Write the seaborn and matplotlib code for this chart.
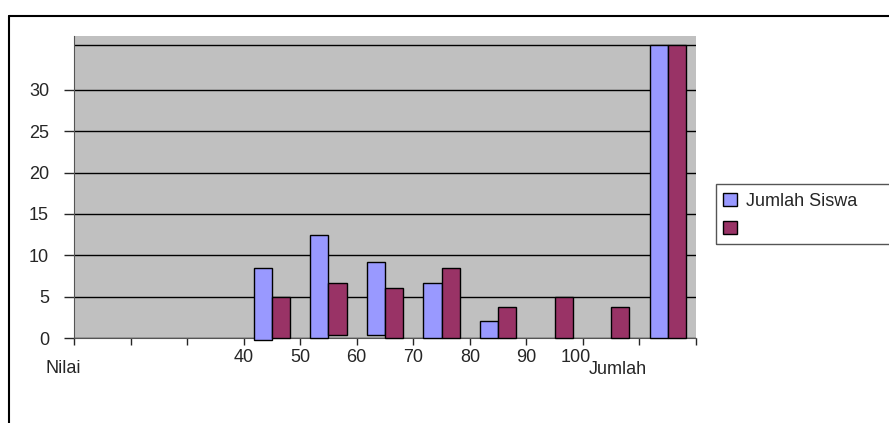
import numpy as np
import pandas as pd
import matplotlib.pyplot as plt
import seaborn as sns
from matplotlib.lines import Line2D
from matplotlib.patches import Patch, Rectangle

# category slots on the x axis and their labels
categories = list(range(11))
cat_labels = ["Nilai", "", "", "40", "50", "60", "70", "80", "90", "100", "Jumlah"]

# bar values
siswa = [np.nan, np.nan, np.nan, 8.5, 12.4, 9.2, 6.7, 2.0, np.nan, np.nan, 35.4]
seri2 = [np.nan, np.nan, np.nan, 5.0, 6.7, 6.1, 8.5, 3.8, 5.0, 3.8, 35.4]
# little floating / sunken bar bases seen in the original
siswa_base = [0, 0, 0, -0.3, 0, 0.35, 0, 0, 0, 0, 0]
seri2_base = [0, 0, 0, 0, 0.35, 0, 0, 0, 0, 0, 0]

legend_labels = ["Jumlah Siswa", ""]
yticks = [0, 5, 10, 15, 20, 25, 30]

blue = "#9999FF"
plum = "#993366"

df = pd.DataFrame({
    "cat": categories * 2,
    "val": siswa + seri2,
    "seri": ["s1"] * len(categories) + ["s2"] * len(categories),
}).dropna()

sns.set_style("white")
plt.rcParams["font.family"] = ["Liberation Sans", "DejaVu Sans"]

fig = plt.figure(figsize=(8.89, 4.23), dpi=100)
ax = fig.add_axes([74 / 889, 85 / 423, 622 / 889, 302 / 423])
ax.set_facecolor("#C0C0C0")

sns.barplot(data=df, x="cat", y="val", hue="seri", order=categories,
            hue_order=["s1", "s2"], palette={"s1": blue, "s2": plum},
            width=0.64, saturation=1, edgecolor="black", linewidth=1,
            errorbar=None, legend=False, ax=ax, zorder=3)

# apply the odd bar bases
bases = {"s1": siswa_base, "s2": seri2_base}
vals = {"s1": siswa, "s2": seri2}
for key, cont in zip(["s1", "s2"], ax.containers):
    for bar in cont:
        i = int(round(bar.get_x() + bar.get_width() / 2))
        b = bases[key][i]
        bar.set_y(b)
        bar.set_height(vals[key][i] - b)
        bar.set_clip_on(False)

ax.set_xlim(-0.5, 10.5)
ax.set_ylim(0, 36.5)
ax.set_yticks(yticks)
ax.set_yticklabels([str(t) for t in yticks], fontsize=13)
for t in yticks:
    ax.axhline(t, color="black", lw=1, zorder=1)
ax.axhline(max(siswa[-1], seri2[-1]), color="black", lw=1, zorder=1)

ax.set_xticks([c - 0.5 for c in categories] + [categories[-1] + 0.5])
ax.set_xticklabels([])
ax.tick_params(axis="y", direction="out", length=7, width=1, pad=11, left=True)
ax.tick_params(axis="x", direction="out", length=5, width=1, bottom=True)
ax.set_xlabel("")
ax.set_ylabel("")

for s in ["top", "right"]:
    ax.spines[s].set_visible(False)
ax.spines["left"].set_color("#555555")
ax.spines["bottom"].set_color("#555555")

trans = ax.get_xaxis_transform()
for c, lab in zip(categories, cat_labels):
    if lab == "Nilai":
        ax.text(c - 0.69, -0.10, lab, transform=trans, ha="center", va="center", fontsize=13)
    elif lab == "Jumlah":
        ax.text(c - 0.88, -0.105, lab, transform=trans, ha="center", va="center", fontsize=13)
    elif lab:
        ax.text(c - 0.62 if lab == "100" else c - 0.5, -0.066, lab, transform=trans,
                ha="center", va="center", fontsize=13)

# legend
handles = [Patch(facecolor=blue, edgecolor="black", lw=1),
           Patch(facecolor=plum, edgecolor="black", lw=1)]
fig.legend(handles, legend_labels, loc="center left", bbox_to_anchor=(723 / 889, 0.4905),
           frameon=False, fontsize=13, handlelength=0.75, handleheight=0.75,
           handletextpad=0.5, labelspacing=0.6, borderpad=0, borderaxespad=0)
fig.add_artist(Rectangle((716 / 889, 179 / 423), 0.3, 60 / 423, transform=fig.transFigure,
                         facecolor="none", edgecolor="#555555", lw=1))

# outer chart frame
fig.add_artist(Line2D([9 / 889, 1], [407 / 423, 407 / 423], color="black", lw=1.5))
fig.add_artist(Line2D([9 / 889, 9 / 889], [0, 407 / 423], color="black", lw=1.5))

fig.savefig("out.png", dpi=100)
